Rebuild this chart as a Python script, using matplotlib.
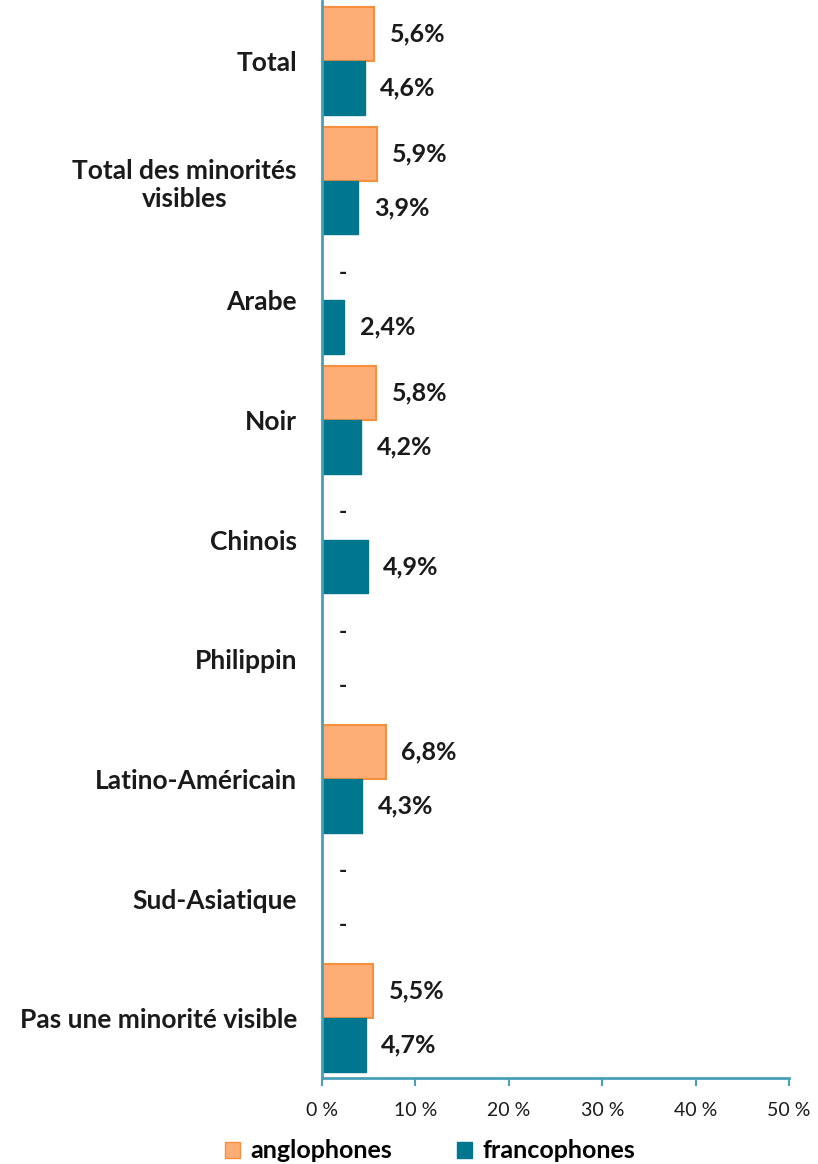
import matplotlib
matplotlib.use("Agg")
import matplotlib.pyplot as plt
from matplotlib.patches import Patch
import numpy as np

plt.rcParams['font.family'] = ['Lato', 'DejaVu Sans']

categories = ["Total", "Total des minorités\nvisibles", "Arabe", "Noir", "Chinois",
              "Philippin", "Latino-Américain", "Sud-Asiatique", "Pas une minorité visible"]
anglophones = [5.6, 5.9, None, 5.8, None, None, 6.8, None, 5.5]
francophones = [4.6, 3.9, 2.4, 4.2, 4.9, None, 4.3, None, 4.7]
xticks = [0, 10, 20, 30, 40, 50]

orange_fill = '#FDAE76'
orange_edge = '#F98F3D'
teal = '#00768F'
axis_col = '#4A9FB8'
txt = '#1a1a1a'

fig = plt.figure(figsize=(8.18, 11.64), dpi=100)
ax = fig.add_axes([322/818, 1 - 1078/1164, (789-322)/818, 1077/1164])

y = np.arange(len(categories))
h = 0.45

def fmt(v):
    return f"{v:.1f}".replace('.', ',') + '%'

# barres + étiquettes ("-" si valeur absente)
for i, (a, f) in enumerate(zip(anglophones, francophones)):
    ya = i - h / 2
    yf = i + h / 2
    if a is not None:
        ax.barh(ya, a, height=h, color=orange_fill, edgecolor=orange_edge, linewidth=1.5)
        ax.annotate(fmt(a), (a, ya), xytext=(11, 0), textcoords='offset points',
                    ha='left', va='center', fontsize=18, fontweight='bold', color=txt)
    else:
        ax.annotate('-', (0, ya), xytext=(15, 0), textcoords='offset points',
                    ha='center', va='center', fontsize=16, fontweight='bold', color=txt)
    if f is not None:
        ax.barh(yf, f, height=h, color=teal, edgecolor=teal, linewidth=1)
        ax.annotate(fmt(f), (f, yf), xytext=(11, 0), textcoords='offset points',
                    ha='left', va='center', fontsize=18, fontweight='bold', color=txt)
    else:
        ax.annotate('-', (0, yf), xytext=(15, 0), textcoords='offset points',
                    ha='center', va='center', fontsize=16, fontweight='bold', color=txt)

ax.set_ylim(len(categories) - 0.5, -0.5)
ax.set_xlim(0, 50)
ax.set_yticks(y)
ax.set_yticklabels(categories, fontsize=19, fontweight='bold', color=txt,
                   multialignment='center')
ax.set_xticks(xticks)
ax.set_xticklabels([f"{t} %" for t in xticks], fontsize=14, color=txt)

for s in ['top', 'right']:
    ax.spines[s].set_visible(False)
for s in ['left', 'bottom']:
    ax.spines[s].set_color(axis_col)
    ax.spines[s].set_linewidth(2)
ax.tick_params(axis='y', length=0, pad=18)
ax.tick_params(axis='x', length=6, width=1.5, color=axis_col, pad=11)

handles = [Patch(facecolor=orange_fill, edgecolor=orange_edge, label='anglophones'),
           Patch(facecolor=teal, edgecolor=teal, label='francophones')]
fig.legend(handles=handles, loc='center', bbox_to_anchor=(430/818, 1 - 1151/1164),
           ncol=2, frameon=False, prop={'size': 18, 'weight': 'bold'},
           handlelength=0.6, handleheight=0.6, columnspacing=2.6, handletextpad=0.4)

fig.savefig('out.png', dpi=100)
